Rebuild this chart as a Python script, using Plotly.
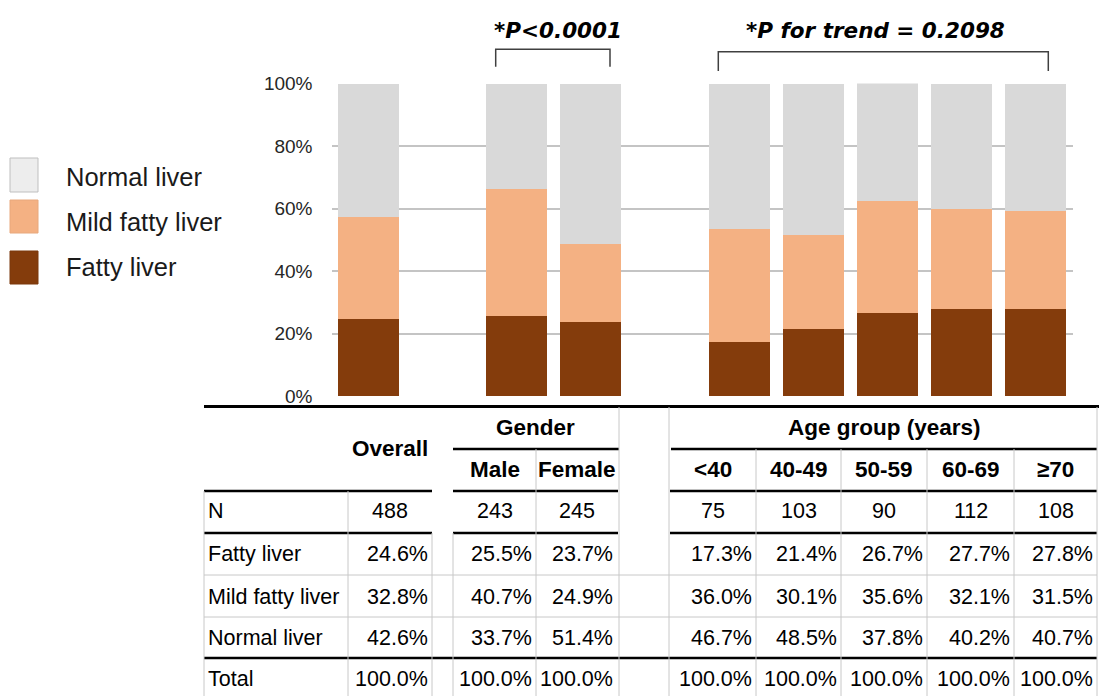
import plotly.graph_objects as go

# ---------------- data ----------------
groups = ["Overall", "Male", "Female", "<40", "40-49", "50-59", "60-69", "≥70"]
slots = ["Overall", "gap1", "Male", "Female", "gap2", "<40", "40-49", "50-59", "60-69", "≥70"]
n_values = [488, 243, 245, 75, 103, 90, 112, 108]
fatty = [24.6, 25.5, 23.7, 17.3, 21.4, 26.7, 27.7, 27.8]
mild = [32.8, 40.7, 24.9, 36.0, 30.1, 35.6, 32.1, 31.5]
normal = [42.6, 33.7, 51.4, 46.7, 48.5, 37.8, 40.2, 40.7]
total = [100.0] * 8
y_ticks = [0, 20, 40, 60, 80, 100]
y_tick_labels = ["0%", "20%", "40%", "60%", "80%", "100%"]
series_names = ["Fatty liver", "Mild fatty liver", "Normal liver"]
p_gender = "*P<0.0001"
p_age = "*P for trend = 0.2098"

# ---------------- styling / layout constants ----------------
W, H = 1099, 696
def X(px):
    return px / W
def Y(py):
    return 1 - py / H

C_FATTY = "#843C0C"
C_MILD = "#F4B183"
C_NORMAL = "#D9D9D9"
FONT = "Liberation Sans, Arial, sans-serif"

fig = go.Figure()
for name, vals, col in [(series_names[0], fatty, C_FATTY),
                        (series_names[1], mild, C_MILD),
                        (series_names[2], normal, C_NORMAL)]:
    fig.add_trace(go.Bar(x=groups, y=vals, name=name, marker_color=col,
                         marker_line_width=0, showlegend=False))

fig.update_layout(
    width=W, height=H, autosize=False,
    margin=dict(l=0, r=0, t=0, b=0, pad=0, autoexpand=False),
    paper_bgcolor="white", plot_bgcolor="white",
    barmode="stack", bargap=0.177,
    showlegend=False,
    xaxis=dict(domain=[X(331.5), X(1072.5)], type="category",
               categoryorder="array", categoryarray=slots,
               showticklabels=False, showgrid=False, zeroline=False,
               showline=False, ticks="", automargin=False),
    yaxis=dict(domain=[Y(396), Y(83.5)], range=[0, 100],
               tickvals=y_ticks, ticktext=y_tick_labels,
               showgrid=True, gridcolor="#C4C4C4", gridwidth=1.5,
               zeroline=False, showline=False, ticks="",
               ticklabelstandoff=18, automargin=False,
               tickfont=dict(family=FONT, size=19, color="#262626")),
)

shapes = []
annots = []

def line(x0, y0, x1, y1, color="black", width=2.5):
    shapes.append(dict(type="line", xref="paper", yref="paper",
                       x0=X(x0), y0=Y(y0), x1=X(x1), y1=Y(y1),
                       line=dict(color=color, width=width)))

def text(x, y, s, size=21.5, bold=False, xanchor="center", italic=False,
         family=FONT, color="black"):
    st = s
    if bold:
        st = "<b>" + st + "</b>"
    if italic:
        st = "<i>" + st + "</i>"
    annots.append(dict(xref="paper", yref="paper", x=X(x), y=Y(y), text=st,
                       showarrow=False, xanchor=xanchor, yanchor="middle",
                       font=dict(family=family, size=size, color=color)))

# ---------------- P-value brackets ----------------
PFONT = "DejaVu Sans, sans-serif"
def bracket(x0, x1, ytop, ybot):
    shapes.append(dict(type="path", xref="paper", yref="paper",
                       path=f"M {X(x0)} {Y(ybot)} L {X(x0)} {Y(ytop)} L {X(x1)} {Y(ytop)} L {X(x1)} {Y(ybot)}",
                       line=dict(color="#404040", width=1.5)))
bracket(495.7, 610, 49.3, 66.7)
bracket(718.3, 1048.3, 51.7, 71)
text(557.5, 30, p_gender, size=21.5, bold=True, italic=True, family=PFONT)
text(875, 30, p_age, size=21.5, bold=True, italic=True, family=PFONT)

# ---------------- legend (manual) ----------------
legend_items = [(series_names[2], "#EDEDED", "#BFBFBF", 158, 192, 177),
                (series_names[1], C_MILD, "#E8A87C", 200, 233, 222),
                (series_names[0], C_FATTY, "#7A380C", 251, 284, 267)]
for name, fill, border, y0, y1, yc in legend_items:
    shapes.append(dict(type="rect", xref="paper", yref="paper",
                       x0=X(10), x1=X(38), y0=Y(y1), y1=Y(y0),
                       fillcolor=fill, line=dict(color=border, width=1)))
    text(64, yc, name, size=25.5, xanchor="left", color="#1a1a1a")

# ---------------- table ----------------
col_left = [348, 453, 536, 669, 756, 841, 927, 1014]
col_right = [432, 536, 617, 756, 841, 927, 1014, 1097]
row_y = {"N": 511, "Fatty liver": 554, "Mild fatty liver": 597,
         "Normal liver": 638, "Total": 679}

# thick rules
line(204, 406.5, 1099, 406.5, width=3)
line(453, 449, 619, 449)
line(671, 449, 1097, 449)
for yy in (491, 533):
    line(204, yy, 432, yy)
    line(453, yy, 618, yy)
    line(670, yy, 1097, yy)
line(204, 658, 1097, 658)

# thin grey rules
G = "#C8C8C8"
for yy in (575, 617):
    line(204, yy, 1097, yy, color=G, width=1)
for xx in (204, 348):
    line(xx, 491, xx, 696, color=G, width=1)
for xx in (432, 453):
    line(xx, 533, xx, 696, color=G, width=1)
line(536, 449, 536, 696, color=G, width=1)
for xx in (619, 669, 1097):
    line(xx, 407, xx, 696, color=G, width=1)
for xx in (756, 841, 927, 1014):
    line(xx, 449, xx, 696, color=G, width=1)

# headers
text(390, 448, "Overall", size=22.5, bold=True)
text(535, 427, "Gender", size=22.5, bold=True)
text(884, 427, "Age group (years)", size=22.5, bold=True)
for i, g in enumerate(groups[1:], start=1):
    cx = (col_left[i] + col_right[i]) / 2
    text(cx, 469, g, size=22.5, bold=True)

# row labels
for lab, yy in row_y.items():
    text(206, yy, lab, size=21.5, xanchor="left")

# values
for i in range(len(groups)):
    cx = (col_left[i] + col_right[i]) / 2
    rx = col_right[i] - 2.5
    text(cx, row_y["N"], str(n_values[i]))
    text(rx, row_y["Fatty liver"], f"{fatty[i]:.1f}%", xanchor="right")
    text(rx, row_y["Mild fatty liver"], f"{mild[i]:.1f}%", xanchor="right")
    text(rx, row_y["Normal liver"], f"{normal[i]:.1f}%", xanchor="right")
    text(rx, row_y["Total"], f"{total[i]:.1f}%", xanchor="right")

fig.update_layout(shapes=shapes, annotations=annots)
fig.write_html("out.html", config={"displayModeBar": False},
               post_script="document.body.style.margin='0';document.body.style.overflow='hidden';")
